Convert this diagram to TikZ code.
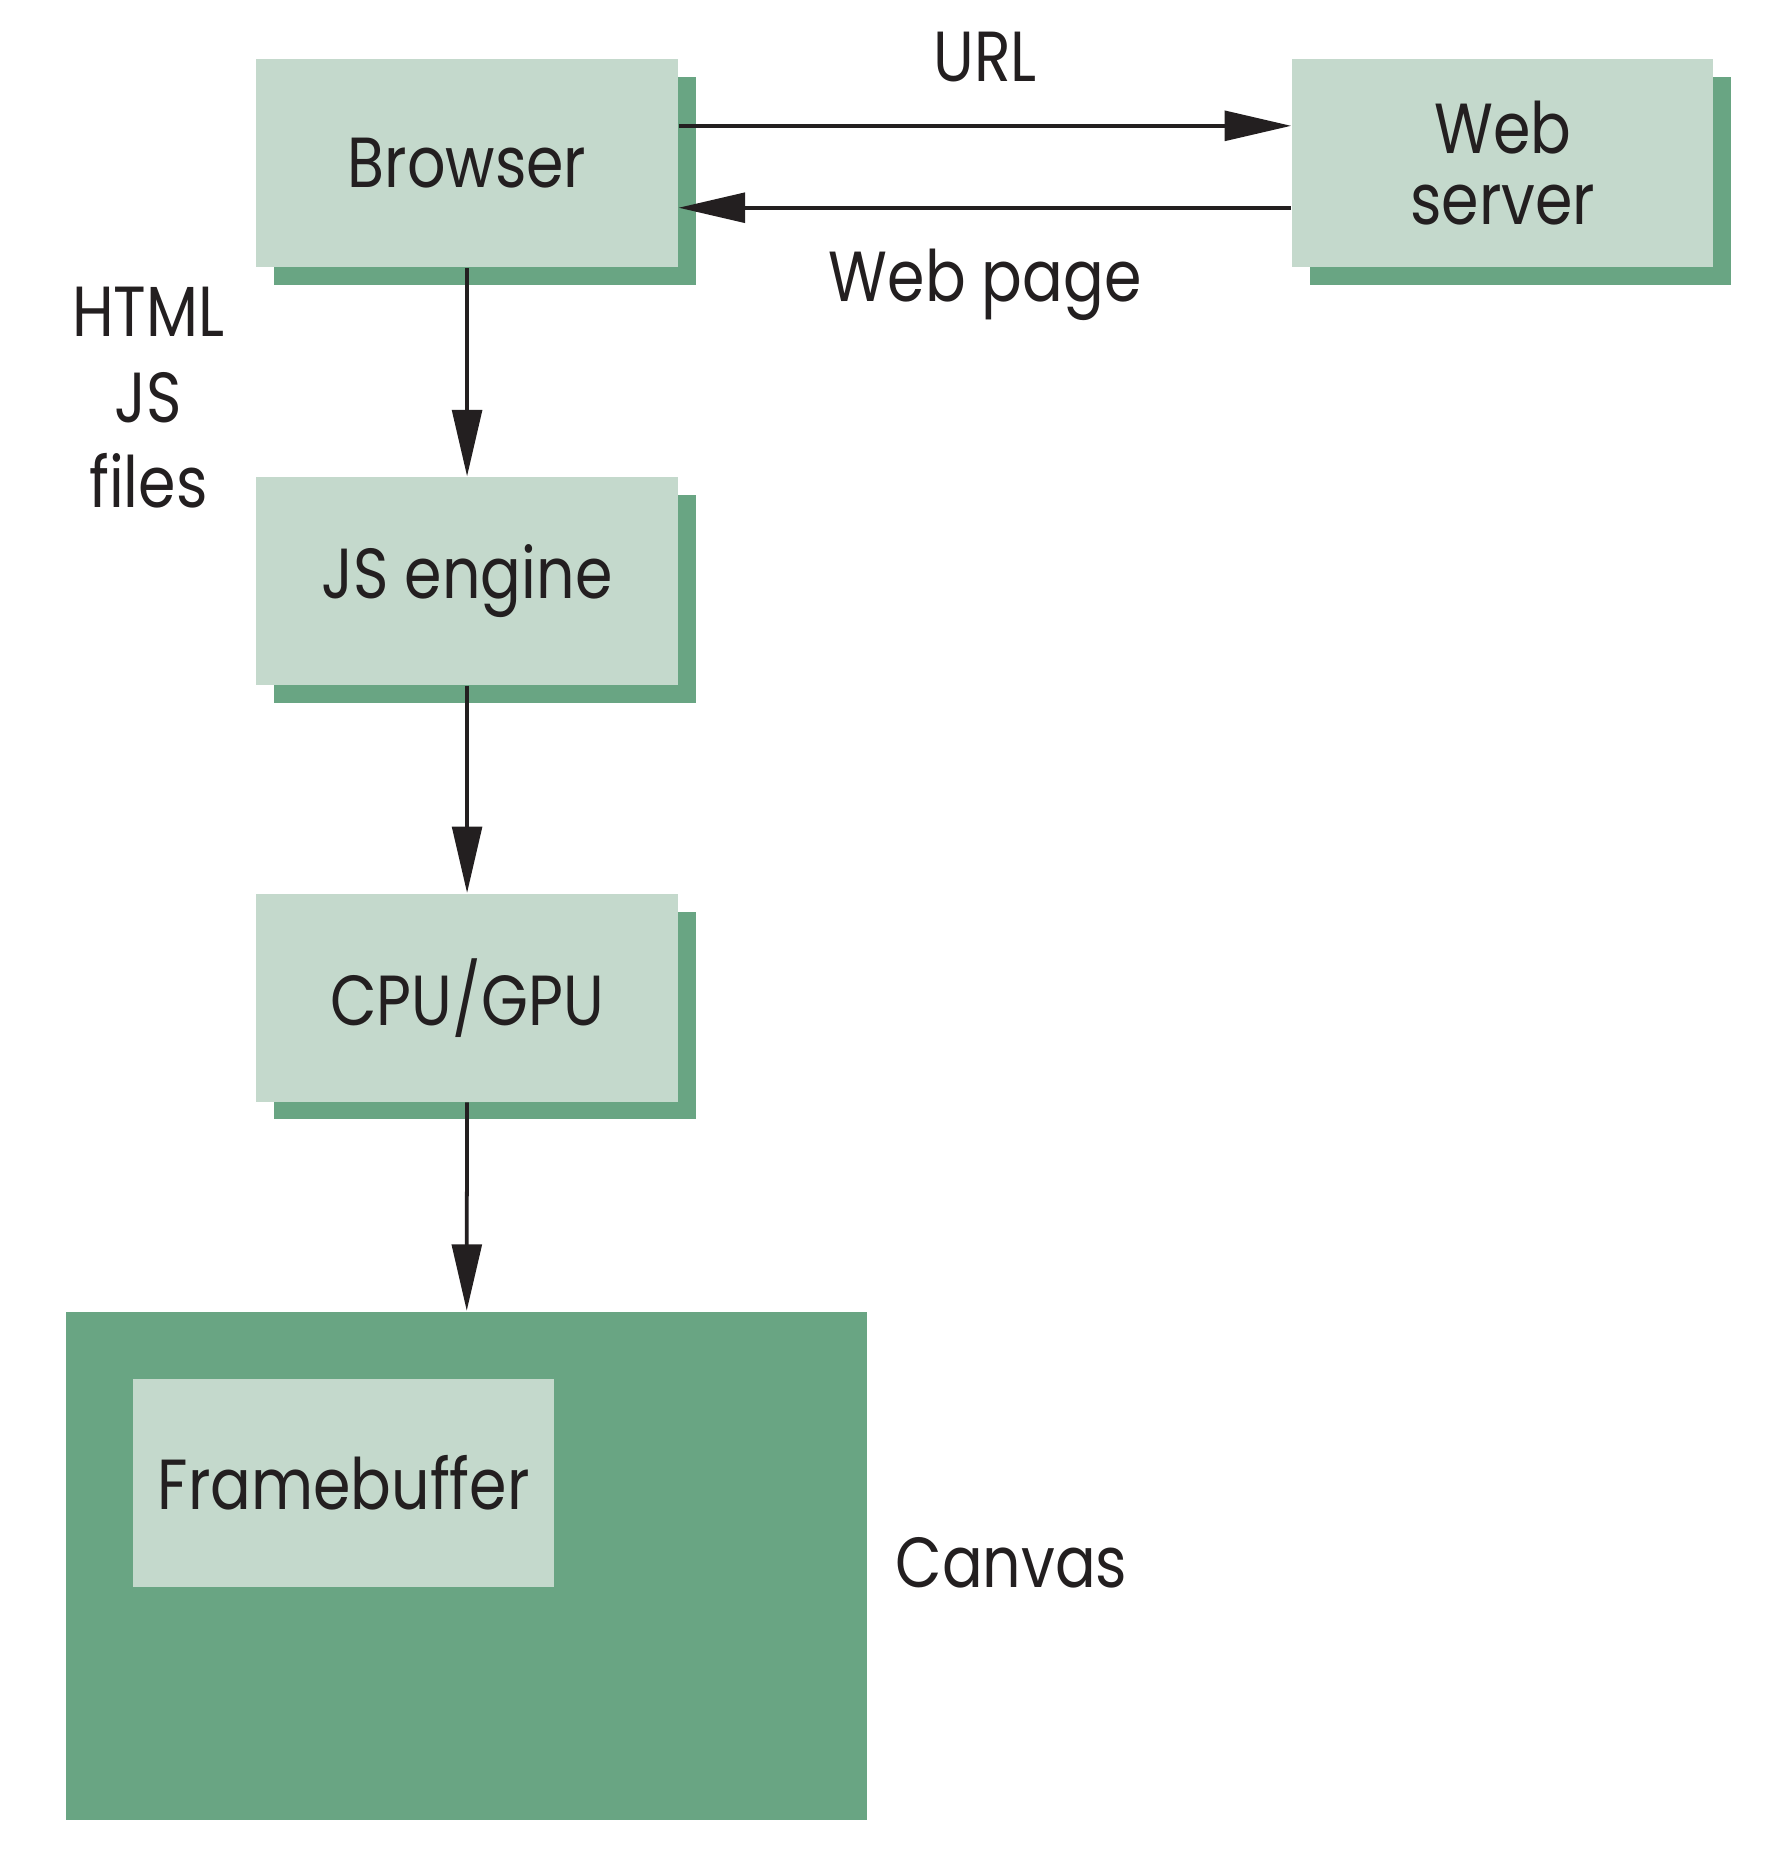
\documentclass[tikz,border=0pt]{standalone}
\usepackage{fontspec}
\setmainfont{Poppins}[FakeStretch=0.85]
\usetikzlibrary{arrows.meta,shadows}
\definecolor{palegreen}{RGB}{196,217,204}
\definecolor{darkgreen}{RGB}{105,165,131}
\definecolor{inkgray}{RGB}{35,31,32}
\begin{document}
\begin{tikzpicture}[
  font=\fontsize{17pt}{17pt}\selectfont, text=inkgray,
  unit/.style={fill=palegreen, minimum width=3.55cm, minimum height=1.75cm,
    inner sep=0pt, align=center,
    general shadow={fill=darkgreen, shadow xshift=0.15cm, shadow yshift=-0.15cm}},
  flow/.style={-{Triangle[length=5.6mm,width=2.5mm]}, line width=0.9pt, draw=inkgray}
]

  \useasboundingbox (0,0) rectangle (14.925,-15.67);

  \node[unit] (browser) at (3.935,-1.375) {Browser};
  \node[unit] (webserver) at (12.66,-1.375) {Web\\server};
  \node[unit] (jsengine) at (3.935,-4.895) {JS engine};
  \node[unit] (cpugpu) at (3.935,-8.405) {CPU/GPU};

  \node[fill=darkgreen, minimum width=6.74cm, minimum height=4.28cm, inner sep=0pt]
    (canvas) at (3.93,-13.19) {};
  \node[fill=palegreen, minimum width=3.55cm, minimum height=1.75cm, inner sep=0pt]
    (framebuffer) at (2.895,-12.495) {Framebuffer};

  \node[anchor=west] (canvaslabel) at (7.42,-13.17) {Canvas};
  \node[align=center] (fileslabel) at (1.25,-3.35) {HTML\\[0.12cm]JS\\[0.12cm]files};
  \node[] (urllabel) at (8.30,-0.48) {URL};
  \node[] (pagelabel) at (8.30,-2.40) {Web page};

  \draw[flow] ([yshift=0.315cm]browser.east) -- ([yshift=0.315cm]webserver.west);
  \draw[flow] ([yshift=-0.375cm]webserver.west) -- ([yshift=-0.375cm]browser.east);

  \draw[flow] (browser) -- (jsengine);
  \draw[flow] (jsengine) -- (cpugpu);
  \draw[flow] (cpugpu) -- (canvas);

\end{tikzpicture}
\end{document}
